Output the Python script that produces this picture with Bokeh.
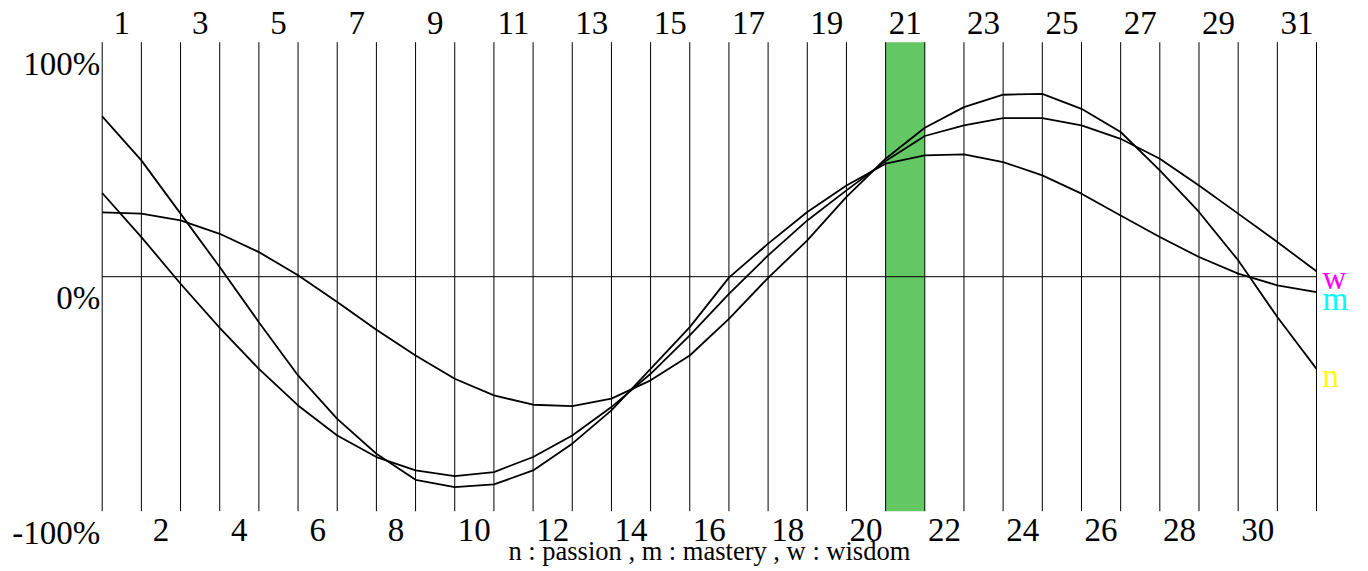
from bokeh.plotting import figure
from bokeh.models import ColumnDataSource, LabelSet, Range1d
from bokeh.core.properties import value
from bokeh.embed import file_html
from bokeh.resources import INLINE

# ---------------- data ----------------
days = list(range(1, 32))                 # day columns
boundaries = list(range(0, 32))           # sample positions (column edges)
highlight_day = 21
odd_days = [d for d in days if d % 2 == 1]
even_days = [d for d in days if d % 2 == 0]
pct_values = [1.0, 0.0, -1.0]
pct_labels = ["100%", "0%", "-100%"]

passion_n = [0.274, 0.269, 0.240, 0.183, 0.105, 0.006, -0.108, -0.226, -0.336, -0.435,
             -0.506, -0.546, -0.552, -0.520, -0.442, -0.336, -0.180, -0.005, 0.155, 0.340,
             0.503, 0.635, 0.723, 0.776, 0.780, 0.716, 0.617, 0.453, 0.276, 0.070,
             -0.172, -0.393]
mastery_m = [0.684, 0.496, 0.269, 0.041, -0.194, -0.421, -0.606, -0.755, -0.866, -0.897,
             -0.886, -0.826, -0.712, -0.570, -0.393, -0.215, -0.004, 0.141, 0.276, 0.389,
             0.482, 0.517, 0.522, 0.489, 0.432, 0.354, 0.261, 0.169, 0.084, 0.013,
             -0.037, -0.066]
wisdom_w = [0.357, 0.169, -0.030, -0.218, -0.393, -0.549, -0.677, -0.769, -0.826, -0.850,
            -0.833, -0.769, -0.677, -0.556, -0.414, -0.250, -0.073, 0.091, 0.240, 0.368,
            0.493, 0.600, 0.645, 0.676, 0.676, 0.645, 0.588, 0.503, 0.389, 0.269,
            0.148, 0.023]
series_letters = ["w", "m", "n"]
series_colors = ["#ff00ff", "#00ffff", "#ffff00"]
legend_text = "n : passion , m : mastery , w : wisdom"

FONT = "Liberation Serif"

# ---------------- layout (frame covers whole canvas; chart box inside it) ----------------
W, H = 1368, 571
left_px, right_px = 101.7, 1316.0     # screen x of first / last day line
top_px, bottom_px = 41.7, 510.7       # screen y of +100% / -100%
x_scale = (right_px - left_px) / (boundaries[-1] - boundaries[0])
y_scale = (bottom_px - top_px) / 2.0
x_start = boundaries[0] - left_px / x_scale
x_end = boundaries[-1] + (W - right_px) / x_scale
y_end = 1 + top_px / y_scale
y_start = -1 - (H - bottom_px) / y_scale

p = figure(width=W, height=H, output_backend="svg", toolbar_location=None,
           x_range=Range1d(x_start, x_end), y_range=Range1d(y_start, y_end),
           x_axis_location=None, y_axis_location=None, min_border=0)
p.outline_line_color = None
p.grid.visible = False
p.background_fill_color = "white"
p.border_fill_color = "white"

# highlighted day column
p.quad(left=[highlight_day - 1], right=[highlight_day], bottom=[-1], top=[1],
       fill_color="#63c863", line_color=None)

# vertical day lines
p.segment(x0=boundaries, y0=-1, x1=boundaries, y1=1, line_color="black", line_width=1)

# zero line
p.segment(x0=[boundaries[0]], y0=[0], x1=[boundaries[-1]], y1=[0], line_color="black", line_width=1)

# curves
for vals in (passion_n, mastery_m, wisdom_w):
    p.line(boundaries, vals, line_color="black", line_width=1.8)

# top day labels (odd)
top_src = ColumnDataSource(dict(x=[d - 0.5 for d in odd_days], y=[1.0] * len(odd_days),
                                text=[str(d) for d in odd_days]))
p.add_layout(LabelSet(x="x", y="y", text="text", source=top_src, text_align="center",
                      text_baseline="alphabetic", y_offset=8.7, text_font=value(FONT),
                      text_font_size="33px", text_color="black"))

# bottom day labels (even)
bot_src = ColumnDataSource(dict(x=[d - 0.5 for d in even_days], y=[-1.0] * len(even_days),
                                text=[str(d) for d in even_days]))
p.add_layout(LabelSet(x="x", y="y", text="text", source=bot_src, text_align="center",
                      text_baseline="alphabetic", y_offset=-30, text_font=value(FONT),
                      text_font_size="33px", text_color="black"))

# percent labels
pct_src = ColumnDataSource(dict(x=[boundaries[0]] * 3, y=pct_values, text=pct_labels))
p.add_layout(LabelSet(x="x", y="y", text="text", source=pct_src, text_align="right",
                      text_baseline="alphabetic", x_offset=-2, y_offset=-32.5,
                      text_font=value(FONT), text_font_size="33px", text_color="black"))

# curve end letters
end_src = ColumnDataSource(dict(x=[boundaries[-1]] * 3,
                                y=[wisdom_w[-1], mastery_m[-1], passion_n[-1]],
                                text=series_letters, color=series_colors))
p.add_layout(LabelSet(x="x", y="y", text="text", source=end_src, text_align="left",
                      text_baseline="alphabetic", x_offset=6, y_offset=-18,
                      text_font=value(FONT), text_font_size="33px", text_color="color"))

# legend text
leg_src = ColumnDataSource(dict(x=[(boundaries[0] + boundaries[-1]) / 2], y=[-1.0], text=[legend_text]))
p.add_layout(LabelSet(x="x", y="y", text="text", source=leg_src, text_align="center",
                      text_baseline="alphabetic", y_offset=-49,
                      text_font=value(FONT), text_font_size="26.5px", text_color="black"))

open("out.html", "w").write(file_html(p, INLINE))
